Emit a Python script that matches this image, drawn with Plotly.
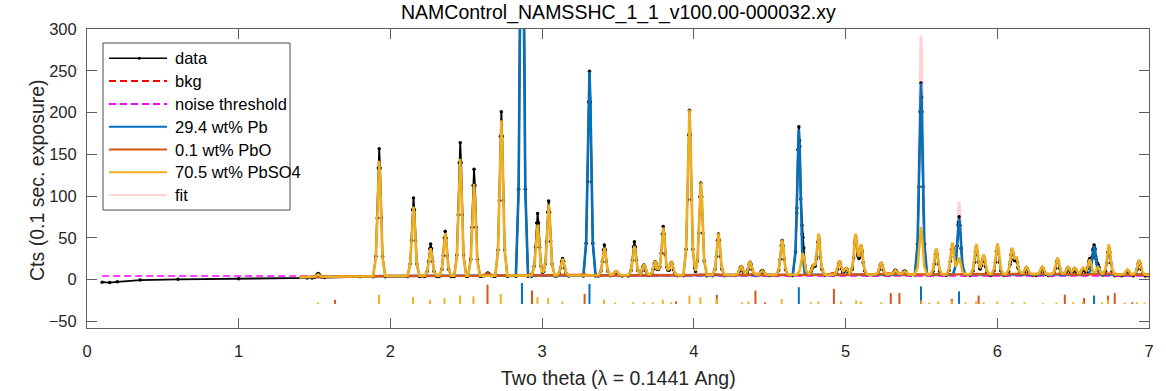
import numpy as np
import plotly.graph_objects as go

# ---------------- pattern values (2-theta in degrees, counts) ----------------
# refined background
bkg_x = [1.40, 2.0, 3.0, 4.0, 5.0, 6.0, 7.0]
bkg_y = [3.0, 4.5, 5.0, 5.5, 6.0, 6.5, 6.0]

# noise threshold
noise_x = [0.10, 7.0]
noise_y = [4.5, 4.5]

# measured data: baseline knots and peak heights above it
data_base_x = [0.10, 0.15, 0.20, 0.35, 0.60, 1.00, 1.45, 1.80, 2.50, 3.50, 4.50, 5.50, 6.50, 7.00]
data_base_y = [-3.0, -3.5, -2.5, -0.5, 0.5, 1.0, 2.0, 3.5, 4.0, 4.5, 5.0, 5.5, 5.0, 4.5]
data_peak_pos = [1.524, 1.926, 2.152, 2.265, 2.361, 2.460, 2.551, 2.642, 2.731, 2.867,
                 2.970, 3.043, 3.135, 3.312, 3.410, 3.487, 3.608, 3.670, 3.745, 3.798,
                 3.852, 3.971, 4.046, 4.162, 4.312, 4.371, 4.450, 4.582, 4.692, 4.718,
                 4.785, 4.822, 4.960, 5.005, 5.066, 5.103, 5.235, 5.328, 5.389, 5.497,
                 5.598, 5.704, 5.748, 5.862, 5.910, 6.001, 6.097, 6.126, 6.192, 6.297,
                 6.397, 6.467, 6.511, 6.566, 6.609, 6.638, 6.664, 6.735, 6.858, 6.935]
data_peak_h = [5, 153, 94, 39, 54, 160, 128, 4, 197, 650,
               75, 90, 21, 245, 37, 5, 41, 13, 17, 59,
               16, 198, 111, 50, 11, 16, 6, 42, 175, 24,
               10, 46, 16, 8, 45, 33, 14, 6, 5, 230,
               29, 36, 70, 33, 22, 34, 28, 17, 9, 9,
               19, 9, 8, 8, 17, 34, 9, 33, 6, 17]

# phase contributions above background
phase_names = ["Pb", "PbO", "PbSO4"]
phase_wt = [29.4, 0.1, 70.5]

pb_pos = [2.867, 3.312, 4.692, 5.497, 5.748, 6.638]
pb_h = [650, 244, 174, 229, 67, 34]

pbo_pos = [1.633, 2.642, 2.930, 3.273, 3.842, 4.145, 4.397, 4.916, 5.284, 5.338,
           5.861, 6.430, 6.553, 6.722, 6.762]
pbo_h = [0.5, 3, 2, 1.5, 0.5, 1, 1.5, 2, 1.5, 1.5, 1, 1, 0.8, 1, 1.2]

pbso4_pos = [1.524, 1.926, 2.152, 2.265, 2.361, 2.460, 2.551, 2.731, 2.970, 3.043,
             3.135, 3.410, 3.487, 3.608, 3.670, 3.745, 3.798, 3.852, 3.971, 4.046,
             4.162, 4.312, 4.371, 4.450, 4.582, 4.718, 4.785, 4.822, 4.960, 5.005,
             5.066, 5.103, 5.235, 5.328, 5.389, 5.497, 5.598, 5.704, 5.748, 5.862,
             5.910, 6.001, 6.097, 6.126, 6.192, 6.297, 6.397, 6.467, 6.511, 6.566,
             6.609, 6.664, 6.735, 6.858, 6.935]
pbso4_h = [3, 138, 83, 33, 51, 140, 110, 186, 61, 85,
           20, 33, 5, 35, 13, 17, 57, 16, 198, 111,
           50, 11, 16, 5, 42, 26, 10, 49, 17, 8,
           48, 35, 15, 5, 4, 57, 31, 38, 20, 36,
           24, 37, 30, 18, 9, 9, 20, 9, 8, 8,
           18, 9, 36, 6, 18]

# reflection markers (relative intensities drawn below the pattern)
TICK_BASE = -29
pb_tick_pos = [2.867, 3.312, 4.692, 5.497, 5.748, 6.638]
pb_tick_h = [25, 24, 20, 21, 15, 10]
pbo_tick_pos = [1.635, 2.640, 2.933, 3.280, 3.883, 4.151, 4.406, 4.470, 4.923, 5.298,
                5.355, 5.700, 5.877, 6.445, 6.572, 6.730, 6.774, 6.890]
pbo_tick_h = [5, 23, 16, 12, 3, 11, 16, 2, 18, 13,
              13, 6, 10, 11, 7, 10, 13, 2]
pbso4_tick_pos = [1.523, 1.925, 2.149, 2.261, 2.356, 2.459, 2.547, 2.727, 2.969, 3.040,
                  3.133, 3.408, 3.480, 3.600, 3.670, 3.730, 3.795, 3.850, 3.971, 4.043,
                  4.151, 4.316, 4.360, 4.579, 4.770, 4.820, 4.970, 5.070, 5.100, 5.235,
                  5.500, 5.550, 5.610, 5.700, 5.790, 5.860, 5.910, 6.000, 6.100, 6.180,
                  6.300, 6.390, 6.500, 6.565, 6.690, 6.730, 6.840, 6.920, 6.970]
pbso4_tick_h = [1.5, 11, 8, 5, 7, 10, 9, 12, 8, 7,
                3, 5, 1.5, 2, 2, 2, 5, 2, 10, 8,
                6, 2, 3, 6, 2, 3, 3, 4, 3, 2,
                4, 1.5, 3, 4, 2, 3, 2, 3, 2, 2,
                1, 1.5, 2, 2, 2, 5, 1.5, 2, 1.5]

# peak outline used for every reflection (offset in degrees, fraction of height)
PROFILE_DX = np.array([-0.040, -0.022, -0.013, -0.006, 0.0, 0.006, 0.013, 0.022, 0.040])
PROFILE_FRAC = np.array([0.0, 0.16, 0.46, 0.85, 1.0, 0.85, 0.46, 0.16, 0.0])


def build_pattern(base_x, base_y, pos, h, x0, x1):
    xs = set(base_x)
    for p in pos:
        xs.update((p + PROFILE_DX).tolist())
    xs = np.array(sorted(v for v in xs if x0 <= v <= x1))
    ys = np.interp(xs, base_x, base_y)
    for p, a in zip(pos, h):
        ys = ys + a * np.interp(xs, p + PROFILE_DX, PROFILE_FRAC, left=0.0, right=0.0)
    return xs, ys


def tick_segments(pos, h):
    xs, ys = [], []
    for p, a in zip(pos, h):
        xs += [p, p, None]
        ys += [TICK_BASE, TICK_BASE + a, None]
    return xs, ys


X0, X1 = 1.40, 7.0
data_x, data_y = build_pattern(data_base_x, data_base_y, data_peak_pos, data_peak_h, 0.10, 7.0)
pb_x, pb_y = build_pattern(bkg_x, bkg_y, pb_pos, pb_h, X0, X1)
pbo_x, pbo_y = build_pattern(bkg_x, bkg_y, pbo_pos, pbo_h, X0, X1)
pbso4_x, pbso4_y = build_pattern(bkg_x, bkg_y, pbso4_pos, pbso4_h, X0, X1)
fit_x, fit_y = build_pattern(bkg_x, bkg_y, pb_pos + pbo_pos + pbso4_pos,
                             pb_h + pbo_h + pbso4_h, X0, X1)

C_PB = "#0072BD"
C_PBO = "#D95319"
C_PBSO4 = "#EDB120"
C_FIT = "#FFD3D3"
FONT = "Liberation Sans, Arial, sans-serif"
TXT = "#262626"
AX = "#5e5e5e"

fig = go.Figure()
fig.add_trace(go.Scatter(x=fit_x, y=fit_y, mode="lines", line=dict(color=C_FIT, width=3)))
fig.add_trace(go.Scatter(x=data_x, y=data_y, mode="lines+markers",
                         line=dict(color="black", width=1.8),
                         marker=dict(color="black", size=3.5)))
fig.add_trace(go.Scatter(x=bkg_x, y=bkg_y, mode="lines",
                         line=dict(color="#FF0000", width=1.5, dash="7px,4px")))
fig.add_trace(go.Scatter(x=noise_x, y=noise_y, mode="lines",
                         line=dict(color="#FF00FF", width=1.5, dash="7px,4px")))
fig.add_trace(go.Scatter(x=pb_x, y=pb_y, mode="lines", line=dict(color=C_PB, width=2.5)))
fig.add_trace(go.Scatter(x=pbo_x, y=pbo_y, mode="lines", line=dict(color=C_PBO, width=2.5)))
fig.add_trace(go.Scatter(x=pbso4_x, y=pbso4_y, mode="lines", line=dict(color=C_PBSO4, width=2.5)))

for (tp, th, col) in [(pb_tick_pos, pb_tick_h, C_PB),
                      (pbo_tick_pos, pbo_tick_h, C_PBO),
                      (pbso4_tick_pos, pbso4_tick_h, C_PBSO4)]:
    tx, ty = tick_segments(tp, th)
    fig.add_trace(go.Scatter(x=tx, y=ty, mode="lines", line=dict(color=col, width=2)))

# ---------------- legend box (pixel layout converted to paper units) ----------------
PX_L, PX_R, PY_T, PY_B = 87, 1149, 29, 328


def pxx(v):
    return (v - PX_L) / (PX_R - PX_L)


def pxy(v):
    return (PY_B - v) / (PY_B - PY_T)


legend_labels = ["data", "bkg", "noise threshold"] + \
    [f"{w} wt% {n}" for w, n in zip(phase_wt, phase_names)] + ["fit"]
legend_styles = [("black", None), ("#FF0000", "7px,4px"), ("#FF00FF", "7px,4px"),
                 (C_PB, None), (C_PBO, None), (C_PBSO4, None), (C_FIT, None)]

shapes = [dict(type="rect", xref="paper", yref="paper",
               x0=pxx(103), x1=pxx(290), y0=pxy(210), y1=pxy(43),
               line=dict(color="#4d4d4d", width=1), fillcolor="white", layer="above")]
annotations = []
for i, (lab, (col, dash)) in enumerate(zip(legend_labels, legend_styles)):
    yc = 58.3 + i * 22.8
    ln = dict(color=col, width=2 if i else 1.6)
    if dash:
        ln["dash"] = dash
    shapes.append(dict(type="line", xref="paper", yref="paper",
                       x0=pxx(109), x1=pxx(167), y0=pxy(yc), y1=pxy(yc),
                       line=ln, layer="above"))
    annotations.append(dict(text=lab, xref="paper", yref="paper", x=pxx(172.5), y=pxy(yc),
                            xanchor="left", yanchor="middle", showarrow=False,
                            font=dict(family=FONT, size=16.5, color="black")))
shapes.append(dict(type="circle", xref="paper", yref="paper",
                   x0=pxx(137.8), x1=pxx(140.8), y0=pxy(59.8), y1=pxy(56.8),
                   fillcolor="black", line=dict(color="black", width=0), layer="above"))

annotations.append(dict(text="Two theta (\u03bb = 0.1441 Ang)", xref="paper", yref="paper",
                        x=0.5, y=pxy(378), xanchor="center", yanchor="middle", showarrow=False,
                        font=dict(family=FONT, size=19.5, color=TXT)))
annotations.append(dict(text="Cts (0.1 sec. exposure)", xref="paper", yref="paper",
                        x=pxx(37), y=pxy(180), xanchor="center", yanchor="middle",
                        textangle=-90, showarrow=False,
                        font=dict(family=FONT, size=19.5, color=TXT)))
annotations.append(dict(text="NAMControl_NAMSSHC_1_1_v100.00-000032.xy", xref="paper", yref="paper",
                        x=0.5, y=pxy(12), xanchor="center", yanchor="middle", showarrow=False,
                        font=dict(family=FONT, size=19.5, color="black")))

fig.update_layout(
    width=1166, height=391,
    margin=dict(l=PX_L, r=1166 - PX_R, t=PY_T, b=391 - PY_B),
    paper_bgcolor="white", plot_bgcolor="white",
    showlegend=False,
    shapes=shapes, annotations=annotations,
    font=dict(family=FONT, size=16, color=TXT),
    xaxis=dict(range=[0, 7], tickvals=[0, 1, 2, 3, 4, 5, 6, 7], ticks="inside", ticklen=10,
               tickwidth=1, tickcolor=AX, showline=True, linecolor=AX, linewidth=1,
               mirror="ticks", showgrid=False, zeroline=False,
               tickfont=dict(family=FONT, size=16.5, color=TXT), ticklabelstandoff=8),
    yaxis=dict(range=[-57.8, 300], tickvals=[-50, 0, 50, 100, 150, 200, 250, 300],
               ticks="inside", ticklen=10, tickwidth=1, tickcolor=AX, showline=True,
               linecolor=AX, linewidth=1, mirror="ticks", showgrid=False, zeroline=False,
               tickfont=dict(family=FONT, size=16.5, color=TXT), ticklabelstandoff=6),
)

fig.write_html("out.html")
